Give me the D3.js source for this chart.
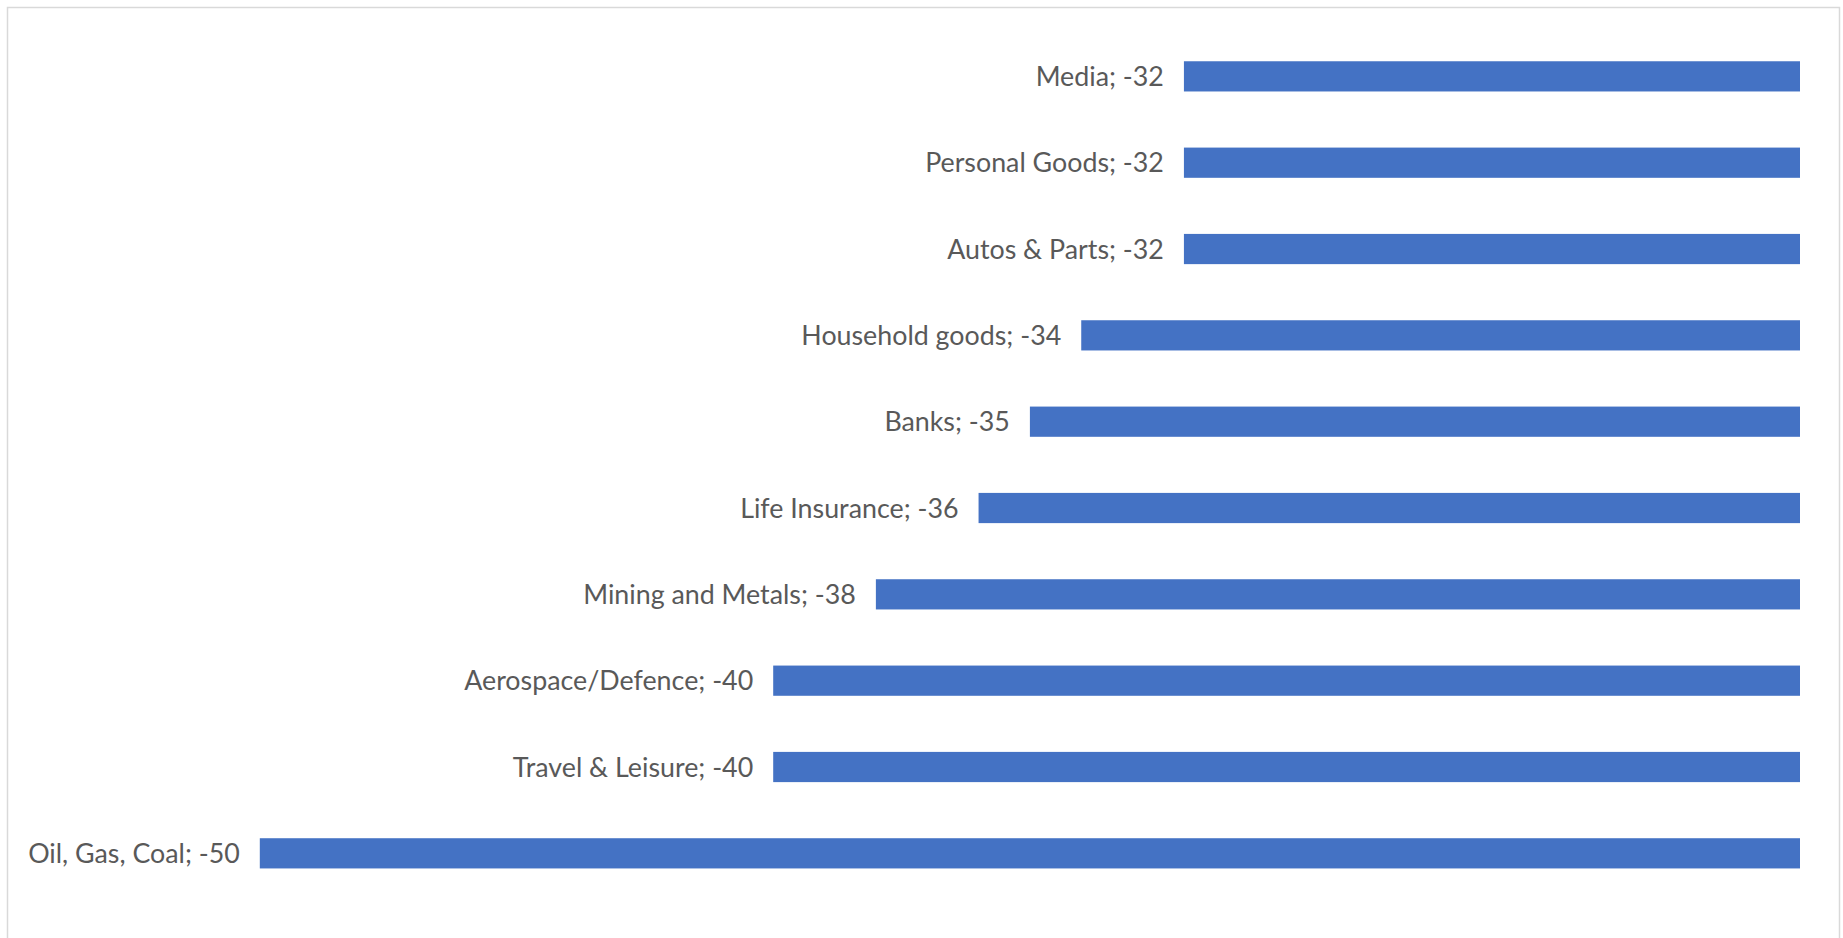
<!DOCTYPE html>
<html>
<head>
<meta charset="utf-8">
<script src="https://cdn.jsdelivr.net/npm/d3@7/dist/d3.min.js"></script>
<style>
  html, body { margin: 0; padding: 0; background: #ffffff; }
  svg { display: block; }
</style>
</head>
<body>
<svg id="chart" width="1843" height="938"></svg>
<script>
// Data (top to bottom as shown)
const categories = ["Media", "Personal Goods", "Autos & Parts", "Household goods", "Banks",
  "Life Insurance", "Mining and Metals", "Aerospace/Defence", "Travel & Leisure", "Oil, Gas, Coal"];
const values = [-32, -32, -32, -34, -35, -36, -38, -40, -40, -50];
const xDomain = [-50, -20];

const svg = d3.select("#chart");

// chart border
svg.append("rect")
  .attr("x", 7.5).attr("y", 7.5)
  .attr("width", 1832).attr("height", 940)
  .attr("fill", "#ffffff")
  .attr("stroke", "#d9d9d9")
  .attr("stroke-width", 1.5);

const x = d3.scaleLinear().domain(xDomain).range([259.8, 1800]);
const y = d3.scaleBand().domain(categories).range([33.2, 896.5]).paddingInner(0.65).paddingOuter(0.325);

const data = categories.map((c, i) => ({ cat: c, val: values[i] }));

svg.append("g").selectAll("rect")
  .data(data)
  .join("rect")
  .attr("x", d => x(d.val))
  .attr("y", d => y(d.cat))
  .attr("width", d => x(xDomain[1]) - x(d.val))
  .attr("height", y.bandwidth())
  .attr("fill", "#4472C4");

svg.append("g").selectAll("text")
  .data(data)
  .join("text")
  .attr("x", d => x(d.val) - 20)
  .attr("y", d => y(d.cat) + y.bandwidth() / 2)
  .attr("dy", "0.36em")
  .attr("text-anchor", "end")
  .attr("font-family", "Lato, 'Open Sans', sans-serif")
  .attr("font-size", 26.8)
  .attr("fill", "#595959")
  .text(d => `${d.cat}; ${d.val}`);
</script>
</body>
</html>
